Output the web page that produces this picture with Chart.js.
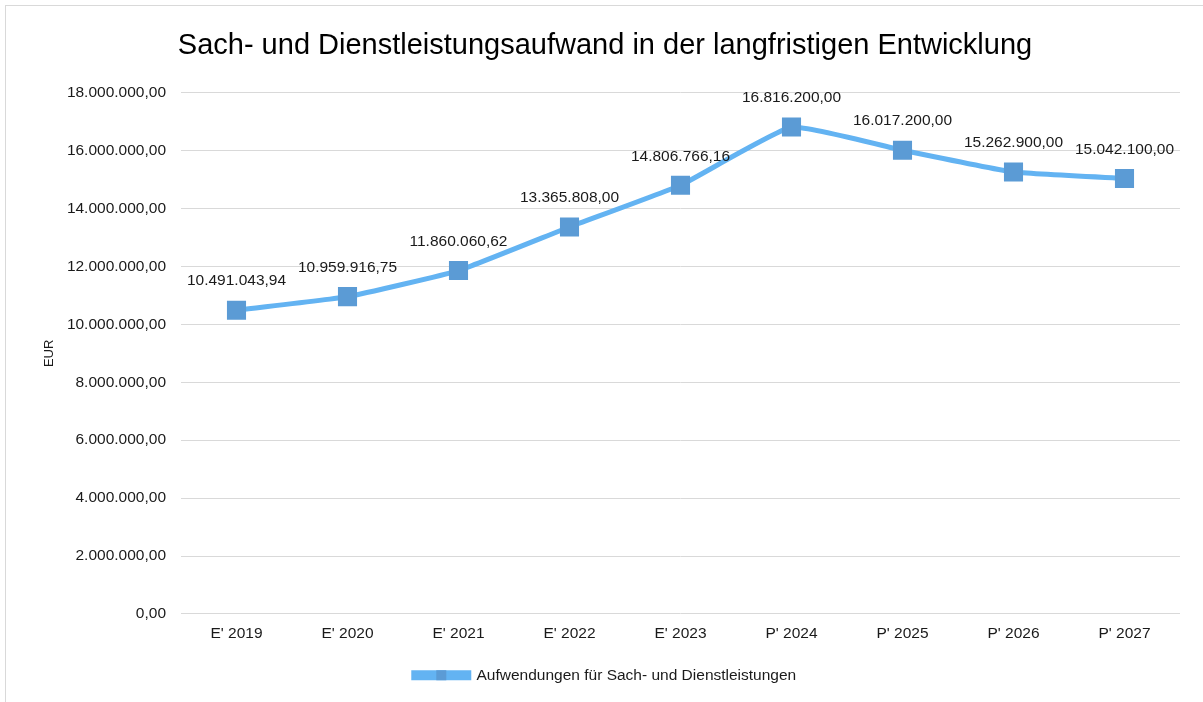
<!DOCTYPE html>
<html>
<head>
<meta charset="utf-8">
<script src="https://cdn.jsdelivr.net/npm/chart.js@4.4.1/dist/chart.umd.min.js"></script>
<style>
  html, body { margin:0; padding:0; background:#fff; overflow:hidden; }
  #frame { position:absolute; left:5px; top:5px; width:1300px; height:800px; border:1px solid #d9d9d9; }
  #wrap { position:absolute; left:0; top:0; width:1203px; height:702px; }
</style>
</head>
<body>
<div id="frame"></div>
<div id="wrap"><canvas id="sachChart"></canvas></div>
<script>
/* Sach- und Dienstleistungsaufwand – E' = Ergebnis, P' = Plan */
const years = ["E' 2019","E' 2020","E' 2021","E' 2022","E' 2023","P' 2024","P' 2025","P' 2026","P' 2027"];
const aufwand = [10491043.94, 10959916.75, 11860060.62, 13365808.00, 14806766.16, 16816200.00, 16017200.00, 15262900.00, 15042100.00];
const yTicks = [0, 2000000, 4000000, 6000000, 8000000, 10000000, 12000000, 14000000, 16000000, 18000000];

const FONT = "'Liberation Sans', Arial, sans-serif";
const LINE_COL = "#63b3f2";
const MARK_COL = "#5b9bd5";

// 18.000.000,00 style
function fmtDE(v){
  const fixed = Math.abs(v).toFixed(2).split(".");
  const intPart = fixed[0].replace(/\B(?=(\d{3})+(?!\d))/g, ".");
  return (v < 0 ? "-" : "") + intPart + "," + fixed[1];
}

// value labels above the points
const valueLabels = {
  id: "valueLabels",
  afterDatasetsDraw(chart){
    const {ctx} = chart;
    const meta = chart.getDatasetMeta(0);
    ctx.save();
    ctx.font = "15.5px " + FONT;
    ctx.fillStyle = "#1a1a1a";
    ctx.textAlign = "center";
    ctx.textBaseline = "middle";
    meta.data.forEach((pt, i) => {
      ctx.fillText(fmtDE(aufwand[i]), pt.x, pt.y - 29);
    });
    ctx.restore();
  }
};

// square marker in the middle of the legend line
const legendMarker = {
  id: "legendMarker",
  afterDraw(chart){
    const lg = chart.legend;
    if(!lg || !lg.legendHitBoxes || !lg.legendHitBoxes.length) return;
    const hb = lg.legendHitBoxes[0];
    const bw = lg.options.labels.boxWidth;
    const cx = hb.left + bw/2;
    const cy = hb.top + hb.height/2;
    const ctx = chart.ctx;
    ctx.save();
    ctx.fillStyle = MARK_COL;
    ctx.fillRect(cx - 5, cy - 5, 10, 10);
    ctx.restore();
  }
};

new Chart(document.getElementById("sachChart"), {
  type: "line",
  data: {
    labels: years,
    datasets: [{
      label: "Aufwendungen für Sach- und Dienstleistungen",
      data: aufwand,
      borderColor: LINE_COL,
      backgroundColor: LINE_COL,
      borderWidth: 5,
      tension: 0.12,
      pointStyle: "rect",
      pointRadius: 13.5,
      pointHoverRadius: 13.5,
      pointBackgroundColor: MARK_COL,
      pointBorderColor: MARK_COL,
      pointBorderWidth: 0
    }]
  },
  options: {
    responsive: true,
    maintainAspectRatio: false,
    animation: false,
    layout: { padding: { left: 30, right: 23, top: 10, bottom: 9 } },
    scales: {
      x: {
        offset: true,
        grid: { display: false },
        border: { display: false },
        ticks: { color: "#1a1a1a", font: { family: FONT, size: 15.5 }, padding: 3, maxRotation: 0 }
      },
      y: {
        min: 0,
        max: 18000000,
        afterBuildTicks: axis => { axis.ticks = yTicks.map(v => ({ value: v })); },
        afterFit: axis => { axis.width = 151; },
        grid: { color: "#d9d9d9", lineWidth: 1, drawTicks: false },
        border: { display: false },
        ticks: { color: "#1a1a1a", font: { family: FONT, size: 15.5 }, padding: 15, callback: v => fmtDE(v) },
        title: { display: true, text: "EUR", color: "#1a1a1a", font: { family: FONT, size: 13 }, padding: { top: 12, bottom: 0 } }
      }
    },
    plugins: {
      title: {
        display: true,
        text: "Sach- und Dienstleistungsaufwand in der langfristigen Entwicklung",
        color: "#000",
        font: { family: FONT, size: 29, weight: "normal" },
        padding: { top: 19, bottom: 29 }
      },
      legend: {
        position: "bottom",
        labels: {
          boxWidth: 55,
          boxHeight: 5,
          color: "#1a1a1a",
          font: { family: FONT, size: 15.5 },
          padding: 21
        }
      },
      tooltip: { enabled: false }
    }
  },
  plugins: [valueLabels, legendMarker]
});
</script>
</body>
</html>
